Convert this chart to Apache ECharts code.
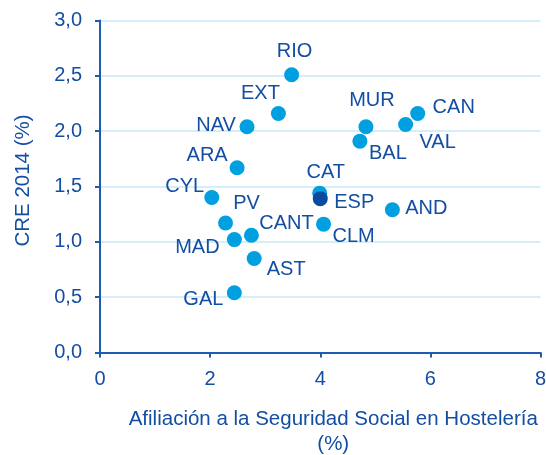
<!DOCTYPE html>
<html>
<head>
<meta charset="utf-8">
<script src="https://cdn.jsdelivr.net/npm/echarts@6/dist/echarts.min.js"></script>
<style>
  html, body { margin: 0; padding: 0; background: #fff; }
  #main { width: 546px; height: 455px; }
</style>
</head>
<body>
<div id="main"></div>
<script>
// regiones
var regions = ['RIO', 'EXT', 'NAV', 'ARA', 'CYL', 'CAT', 'ESP', 'PV', 'CANT', 'MAD', 'CLM', 'AST', 'GAL', 'MUR', 'BAL', 'VAL', 'CAN', 'AND'];
// afiliacion hosteleria (%)
var afiliacion = [3.48, 3.24, 2.67, 2.49, 2.03, 3.99, 4.00, 2.28, 2.75, 2.44, 4.06, 2.80, 2.44, 4.83, 4.72, 5.55, 5.77, 5.31];
// CRE 2014 (%)
var cre = [2.51, 2.16, 2.04, 1.67, 1.40, 1.44, 1.39, 1.17, 1.06, 1.02, 1.16, 0.85, 0.54, 2.04, 1.91, 2.06, 2.16, 1.29];
var xTicks = ['0', '2', '4', '6', '8'];
var yTicks = ['0,0', '0,5', '1,0', '1,5', '2,0', '2,5', '3,0'];

// donde va cada etiqueta respecto al punto
var labelOffset = {
  RIO: [3, -23], EXT: [-18, -20], NAV: [-31, -1], ARA: [-30, -12], CYL: [-27, -11],
  CAT: [6, -21], ESP: [34, 4], PV: [21, -20], CANT: [35, -12], MAD: [-37, 8],
  CLM: [30, 12], AST: [32, 11], GAL: [-31, 7], MUR: [6, -26], BAL: [28, 12],
  VAL: [32, 18], CAN: [36, -6], AND: [34, -1]
};

var textColor = '#134ea3';
var axisColor = '#1f5cb0';
var font = 'Liberation Sans, Arial, sans-serif';

var points = [];
for (var i = 0; i < regions.length; i++) {
  var r = regions[i];
  points.push({
    name: r,
    value: [afiliacion[i], cre[i]],
    itemStyle: { color: r == 'ESP' ? '#0a4b9f' : '#009fe0', opacity: 1 },
    label: { offset: labelOffset[r] }
  });
}
// ESP encima de CAT
var espIdx = regions.indexOf('ESP');
var esp = points.splice(espIdx, 1);
points = points.concat(esp);

var myChart = echarts.init(document.getElementById('main'));
myChart.setOption({
  animation: false,
  textStyle: { fontFamily: font },
  grid: { left: 100, right: 5.5, top: 20.5, bottom: 102.5, containLabel: false, outerBoundsMode: 'none' },
  xAxis: {
    type: 'value', min: 0, max: 8, interval: 2,
    name: 'Afiliación a la Seguridad Social en Hostelería\n(%)',
    nameLocation: 'middle', nameGap: 54,
    nameTextStyle: { color: textColor, fontSize: 20.5, lineHeight: 25, fontFamily: font, padding: [0, 0, 0, 26] },
    axisLine: { show: true, lineStyle: { color: axisColor, width: 2 } },
    axisTick: { show: true, length: 5, lineStyle: { color: axisColor, width: 2 } },
    axisLabel: { color: textColor, fontSize: 20, margin: 17, fontFamily: font,
      formatter: function (v) { return xTicks[v / 2]; } },
    splitLine: { show: false }
  },
  yAxis: {
    type: 'value', min: 0, max: 3, interval: 0.5,
    name: 'CRE 2014 (%)',
    nameLocation: 'middle', nameGap: 66,
    nameTextStyle: { color: textColor, fontSize: 20.5, fontFamily: font, padding: [0, 0, 0, 12] },
    axisLine: { show: true, lineStyle: { color: axisColor, width: 2 } },
    axisTick: { show: true, length: 5, lineStyle: { color: axisColor, width: 2 } },
    axisLabel: { color: textColor, fontSize: 20, margin: 18, fontFamily: font,
      formatter: function (v) { return yTicks[Math.round(v * 2)]; } },
    splitLine: { show: true, lineStyle: { color: '#c9e8f7', width: 1.5 } }
  },
  series: [{
    type: 'scatter',
    symbolSize: 15,
    data: points,
    label: {
      show: true, position: 'inside',
      formatter: '{b}',
      color: textColor, fontSize: 20, fontFamily: font
    }
  }]
});
</script>
</body>
</html>
